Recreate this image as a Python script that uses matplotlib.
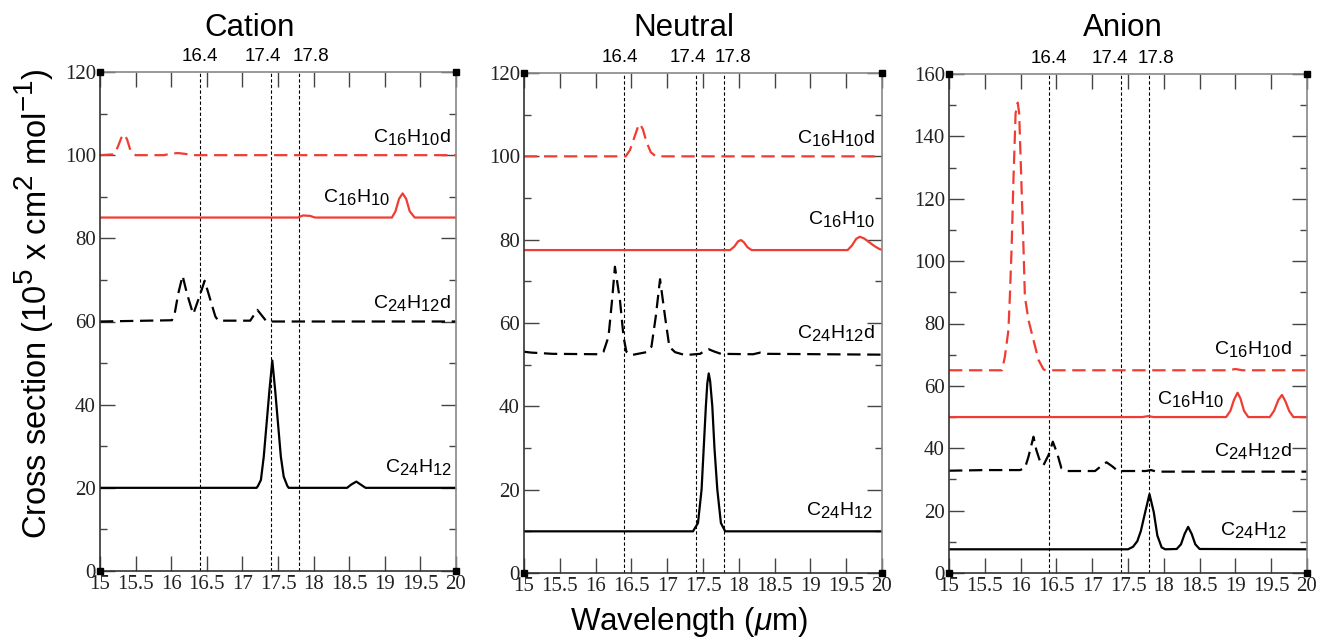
import matplotlib
matplotlib.use("Agg")
import matplotlib.pyplot as plt
import matplotlib._mathtext as mathtext_mod
from matplotlib.ticker import MultipleLocator, AutoMinorLocator

plt.rcParams['font.family'] = ['Liberation Sans', 'DejaVu Sans']
plt.rcParams['mathtext.fontset'] = 'custom'
plt.rcParams['mathtext.rm'] = 'Liberation Sans'
plt.rcParams['mathtext.it'] = 'Liberation Sans:italic'
# sub/superscripts in the original are almost full size
mathtext_mod.SHRINK_FACTOR = 0.85

RED = '#f03c32'

panel_titles = ['Cation', 'Neutral', 'Anion']
ref_lines = [16.4, 17.4, 17.8]
y_max = [120, 120, 160]

# --- Cation ---
cat_c16d_x = [15, 15.2, 15.25, 15.3, 15.34, 15.38, 15.43, 15.5, 15.9, 16.0, 16.1, 16.2, 16.3, 20]
cat_c16d_y = [100, 100.2, 102, 104.2, 105, 103.8, 101, 100, 100, 100.4, 100.5, 100.3, 100, 100]
cat_c16_x = [15, 17.78, 17.85, 17.95, 18.02, 19.10, 19.15, 19.20, 19.25, 19.30, 19.35, 19.42, 20]
cat_c16_y = [85, 85, 85.5, 85.4, 85, 85, 86.5, 89.5, 90.8, 89.5, 86.5, 85, 85]
cat_c24d_x = [15, 16.01, 16.05, 16.10, 16.16, 16.22, 16.29, 16.31, 16.38, 16.47, 16.55, 16.62, 16.66,
              17.11, 17.16, 17.21, 17.27, 17.34, 20]
cat_c24d_y = [60, 60.3, 62, 66.8, 71.0, 66.8, 62.8, 61.8, 65.2, 69.8, 65.2, 61.2, 60.2,
              60.2, 61.5, 62.8, 61.5, 60, 60]
cat_c24_x = [15, 17.20, 17.22, 17.26, 17.30, 17.34, 17.38, 17.42, 17.46, 17.50, 17.54, 17.58,
             17.63, 17.65, 18.47, 18.53, 18.6, 18.66, 18.73, 20]
cat_c24_y = [20, 20, 20.5, 21.9, 27.5, 35.5, 43.5, 50.6, 43.5, 35.5, 27.5, 22.7,
             20.5, 20, 20, 20.8, 21.5, 20.8, 20, 20]

# --- Neutral ---
neu_c16d_x = [15, 16.42, 16.48, 16.54, 16.59, 16.62, 16.66, 16.71, 16.77, 16.84, 20]
neu_c16d_y = [100, 100, 101.5, 104.5, 107, 107.8, 106.5, 103.5, 101, 100, 100]
neu_c16_x = [15, 17.88, 17.94, 17.99, 18.03, 18.07, 18.12, 18.18, 19.52, 19.58, 19.64, 19.69,
             19.75, 19.82, 19.9, 19.97, 20]
neu_c16_y = [77.5, 77.5, 78.4, 79.6, 79.9, 79.4, 78.2, 77.5, 77.5, 78.6, 80.2, 80.7,
             80.3, 79.4, 78.4, 77.7, 77.6]
neu_c24d_x = [15, 15.1, 15.4, 16.06, 16.11, 16.18, 16.23, 16.27, 16.34, 16.39, 16.43, 16.50,
              16.71, 16.78, 16.84, 16.90, 16.97, 17.03, 17.11, 17.25, 17.46, 17.52, 17.58, 17.65,
              17.75, 18.2, 18.3, 18.4, 20]
neu_c24d_y = [53.1, 52.9, 52.6, 52.5, 53.1, 56.7, 65.5, 73.5, 65.5, 56.7, 53.1, 52.3,
              53, 54.3, 61.5, 70.5, 61.5, 54.3, 53, 52.3, 52.6, 53.3, 53.7, 53.2,
              52.6, 52.5, 52.9, 52.6, 52.4]
neu_c24_x = [15, 17.36, 17.43, 17.48, 17.51, 17.54, 17.56, 17.58, 17.60, 17.63, 17.66, 17.70,
             17.75, 17.81, 20]
neu_c24_y = [10, 10, 12, 20, 30, 40, 45.5, 47.9, 46, 40, 30, 20, 12, 10, 10]

# --- Anion ---
an_c16d_x = [15, 15.74, 15.78, 15.83, 15.85, 15.875, 15.90, 15.93, 15.96, 15.98, 16.01, 16.04,
             16.06, 16.11, 16.18, 16.25, 16.32, 16.35, 18.9, 19.0, 19.1, 20]
an_c16d_y = [65, 65, 69.3, 77.9, 88.6, 104.6, 126, 147.4, 150.8, 147.4, 126, 104.6,
             88.6, 81.1, 74.7, 68.3, 65.3, 65, 65, 65.4, 65, 65]
an_c16_x = [15, 17.7, 17.78, 17.86, 18.87, 18.93, 18.98, 19.03, 19.07, 19.12, 19.18,
            19.48, 19.54, 19.60, 19.65, 19.70, 19.75, 19.81, 20]
an_c16_y = [50, 50, 50.3, 50, 50, 52, 55.5, 57.8, 56, 52, 50,
            50, 52, 55.5, 57.1, 55, 52, 50, 50]
an_c24d_x = [15, 15.5, 15.99, 16.06, 16.11, 16.18, 16.22, 16.28, 16.32, 16.39, 16.45, 16.51,
             16.57, 16.64, 17.04, 17.12, 17.20, 17.28, 17.36, 17.75, 17.82, 17.9, 20]
an_c24d_y = [32.8, 33, 33, 33.6, 37.3, 43.7, 39.4, 35.2, 34.6, 37.8, 42.1, 38.4,
             33.6, 32.7, 32.7, 34.2, 35.5, 34.2, 32.7, 32.7, 33, 32.5, 32.5]
an_c24_x = [15, 17.50, 17.57, 17.63, 17.68, 17.74, 17.80, 17.86, 17.91, 17.97, 18.02, 18.18,
            18.24, 18.29, 18.34, 18.39, 18.44, 18.50, 20]
an_c24_y = [7.6, 7.6, 8.4, 10.2, 13.5, 19.5, 25.3, 19.5, 12, 8.2, 7.6, 7.7,
            9.2, 12.5, 14.8, 12.5, 9.2, 7.7, 7.6]

lbl_c16d = r'C$_{16}$H$_{10}$d'
lbl_c16 = r'C$_{16}$H$_{10}$'
lbl_c24d = r'C$_{24}$H$_{12}$d'
lbl_c24 = r'C$_{24}$H$_{12}$'

# (x, y, style, colour, label, label_x, label_y)
panels = [
    [(cat_c16d_x, cat_c16d_y, 'dash', RED, lbl_c16d, 19.93, 103.2),
     (cat_c16_x, cat_c16_y, 'solid', RED, lbl_c16, 19.08, 88.7),
     (cat_c24d_x, cat_c24d_y, 'dash', 'k', lbl_c24d, 19.93, 63.3),
     (cat_c24_x, cat_c24_y, 'solid', 'k', lbl_c24, 19.95, 23.9)],
    [(neu_c16d_x, neu_c16d_y, 'dash', RED, lbl_c16d, 19.90, 103.3),
     (neu_c16_x, neu_c16_y, 'solid', RED, lbl_c16, 19.90, 83.8),
     (neu_c24d_x, neu_c24d_y, 'dash', 'k', lbl_c24d, 19.90, 56.3),
     (neu_c24_x, neu_c24_y, 'solid', 'k', lbl_c24, 19.87, 13.9)],
    [(an_c16d_x, an_c16d_y, 'dash', RED, lbl_c16d, 19.79, 70.2),
     (an_c16_x, an_c16_y, 'solid', RED, lbl_c16, 18.85, 54.2),
     (an_c24d_x, an_c24d_y, 'dash', 'k', lbl_c24d, 19.79, 37.5),
     (an_c24_x, an_c24_y, 'solid', 'k', lbl_c24, 19.72, 12.2)],
]

fig = plt.figure(figsize=(13.18, 6.39), dpi=100)
W, H = 1318, 639
boxes = [(100, 456, 72, 571), (524, 882, 73, 573), (949, 1307, 74, 573)]
title_x = [250, 684, 1123]
# horizontal nudges (points) of the top labels so they do not collide
top_shift = [[0, -6, 8], [-3, -6, 6], [0, -8, 4.5]]

for i, (l, r, t, b) in enumerate(boxes):
    ax = fig.add_axes([l / W, 1 - b / H, (r - l) / W, (b - t) / H])
    ymax = y_max[i]
    for v, dx in zip(ref_lines, top_shift[i]):
        ax.axvline(v, color='k', lw=0.8, ls=(0, (3, 2)), zorder=1)
        ax.annotate(str(v), xy=(v, 1.0), xycoords=('data', 'axes fraction'),
                    xytext=(dx, 5), textcoords='offset points',
                    ha='center', va='bottom', fontsize=13.5)
    for x, y, style, col, lab, lx, ly in panels[i]:
        ls = (0, (6, 3)) if style == 'dash' else '-'
        ax.plot(x, y, color=col, lw=1.6, ls=ls, zorder=2)
        ax.text(lx, ly, lab, ha='right', va='baseline', fontsize=14)

    ax.set_xlim(15, 20)
    ax.set_ylim(0, ymax)
    ax.yaxis.set_major_locator(MultipleLocator(20))
    ax.yaxis.set_minor_locator(AutoMinorLocator(2))
    ax.set_xticks([15, 15.5, 16, 16.5, 17, 17.5, 18, 18.5, 19, 19.5, 20])
    ax.set_xticklabels(['15', '15.5', '16', '16.5', '17', '17.5', '18', '18.5', '19', '19.5', '20'])
    ax.tick_params(which='major', direction='in', top=True, right=True, length=11,
                   width=1, color='#444', labelsize=15, pad=3, labelcolor='#222')
    ax.tick_params(which='minor', direction='in', top=False, right=True, length=5,
                   width=1, color='#444')
    ax.tick_params(axis='x', which='minor', bottom=False, top=False)
    for lab in ax.get_xticklabels() + ax.get_yticklabels():
        lab.set_fontfamily('Liberation Serif')
    for side in ['left', 'bottom']:
        ax.spines[side].set_color('#333')
        ax.spines[side].set_linewidth(1.2)
    for side in ['top', 'right']:
        ax.spines[side].set_color('#888')
        ax.spines[side].set_linewidth(1.2)
    ax.plot([15, 20, 15, 20], [0, 0, ymax, ymax], 's', ms=5, color='k',
            clip_on=False, zorder=6)

    fig.text(title_x[i] / W, 1 - 28 / H, panel_titles[i], ha='center', va='center', fontsize=22.5)

fig.text(34 / W, 0.524, r'Cross section (10$^5$ x cm$^2$ mol$^{-1}$)',
         rotation=90, ha='center', va='center', fontsize=23.5)
fig.text(689 / W, 1 - 622 / H, r'Wavelength ($\mu$m)', ha='center', va='center', fontsize=22.5)

fig.savefig('out.png', dpi=100)
